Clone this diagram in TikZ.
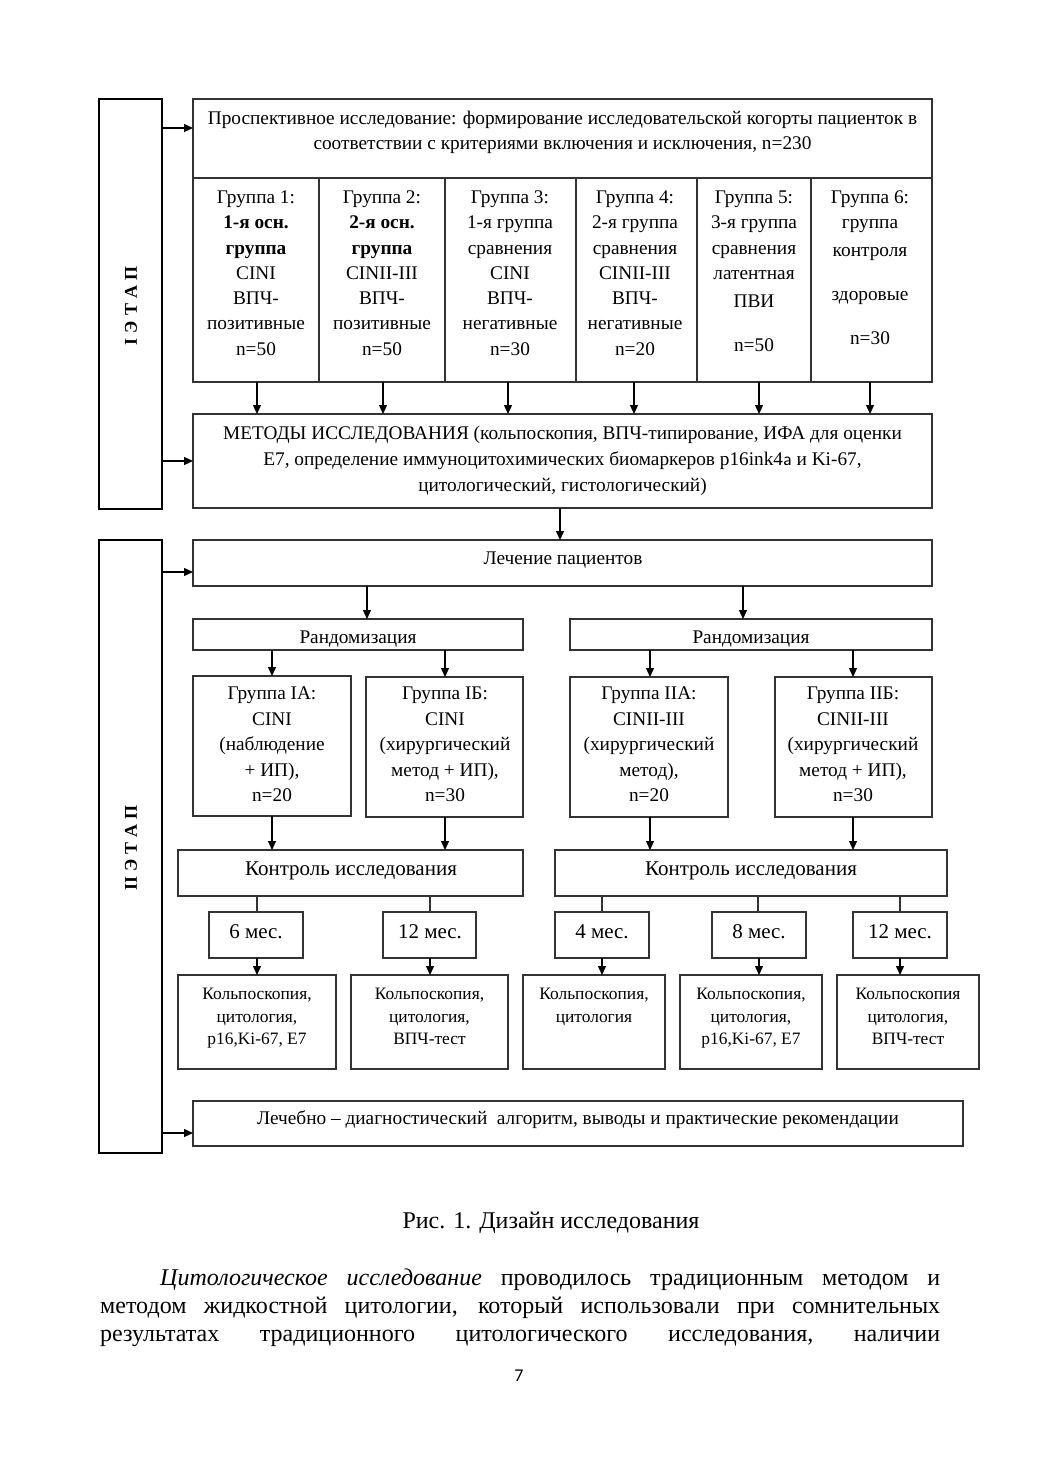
\documentclass[tikz,border=0pt]{standalone}
\usepackage{fontspec}
\setmainfont{Liberation Serif}
\newfontfamily\pagenumfont{Carlito}
\usetikzlibrary{arrows.meta}
\tikzset{
  box/.style={draw=black!80, line width=1.1pt, rectangle, inner sep=0pt, outer sep=0pt},
  stagebox/.style={draw=black, line width=2.8pt, rectangle, inner sep=0pt, outer sep=0pt},
  txt/.style={inner sep=0pt, outer sep=0pt, anchor=base, font=\fontsize{19.3}{25.3}\selectfont},
  arr/.style={line width=1.3pt, -{Triangle[length=9pt,width=8pt]}},
  ln/.style={line width=1.1pt, draw=black!80},
  stagelabel/.style={inner sep=0pt, outer sep=0pt, rotate=90, font=\fontsize{18}{20}\selectfont\bfseries},
}
\newcommand\mkbox[6][]{\node[box,#1,minimum width={(#5)-(#3)},minimum height={(#6)-(#4)}] (#2) at ({(#3+#5)/2},{(#4+#6)/2}) {};}
\newcommand\lns[1]{\begin{tabular}[t]{@{}c@{}}#1\end{tabular}}
\begin{document}
\begin{tikzpicture}[x=1pt,y=-1pt]
\useasboundingbox[fill=white] (0,0) rectangle (1039,1471);
% stage boxes
\mkbox[stagebox]{s1}{99}{99}{162}{509}
\mkbox[stagebox]{s2}{99}{540}{162}{1153}
\node[stagelabel] (s1t) at (131,306) {I\hspace{5pt}Э\hspace{5pt}Т\hspace{5pt}А\hspace{5pt}П};
\node[stagelabel] (s2t) at (131,848) {II\hspace{5pt}Э\hspace{5pt}Т\hspace{5pt}А\hspace{5pt}П};
% top block
\mkbox{hdr}{193}{99}{932}{178}
\mkbox{g1}{193}{178}{319}{382}
\mkbox{g2}{319}{178}{445}{382}
\mkbox{g3}{445}{178}{576}{382}
\mkbox{g4}{576}{178}{697}{382}
\mkbox{g5}{697}{178}{811}{382}
\mkbox{g6}{811}{178}{932}{382}
\node[txt,font=\fontsize{19.3}{25}\selectfont] (hdrt) at (562.5,124.5) {\lns{Проспективное исследование: формирование исследовательской когорты пациенток в\\соответствии с критериями включения и исключения, n=230}};
\node[txt] (g1t) at (256,203.5) {\lns{Группа 1:\\\textbf{1-я осн.}\\\textbf{группа}\\CINI\\ВПЧ-\\позитивные\\n=50}};
\node[txt] (g2t) at (382,203.5) {\lns{Группа 2:\\\textbf{2-я осн.}\\\textbf{группа}\\CINII-III\\ВПЧ-\\позитивные\\n=50}};
\node[txt] (g3t) at (510,203.5) {\lns{Группа 3:\\1-я группа\\сравнения\\CINI\\ВПЧ-\\негативные\\n=30}};
\node[txt] (g4t) at (635,203.5) {\lns{Группа 4:\\2-я группа\\сравнения\\CINII-III\\ВПЧ-\\негативные\\n=20}};
\node[txt] (g5t) at (754,203.5) {\lns{Группа 5:\\3-я группа\\сравнения\\латентная\\[3pt]ПВИ\\[19pt]n=50}};
\node[txt] (g6t) at (870,203.5) {\lns{Группа 6:\\группа\\[2pt]контроля\\[19pt]здоровые\\[19pt]n=30}};
% methods
\mkbox{meth}{193}{414}{932}{508}
\node[txt,font=\fontsize{19.3}{26}\selectfont] (metht) at (562.5,439.5) {\lns{МЕТОДЫ ИССЛЕДОВАНИЯ (кольпоскопия, ВПЧ-типирование, ИФА для оценки\\Е7, определение иммуноцитохимических биомаркеров p16ink4\textsf{a} и Ki-67,\\цитологический, гистологический)}};
\foreach \n/\x in {g1/257,g2/383,g3/508,g4/634,g5/759,g6/870}
  \draw[arr] (\x,0 |- \n.south) -- (\x,0 |- meth.north);
% treatment
\mkbox{treat}{193}{540}{932}{586}
\node[txt] (treatt) at (563,564.5) {Лечение пациентов};
\draw[arr] (560,0 |- meth.south) -- (560,0 |- treat.north);
% randomisation
\mkbox{rl}{193}{619}{523}{650}
\mkbox{rr}{570}{619}{932}{650}
\node[txt] (rlt) at (358,643.5) {Рандомизация};
\node[txt] (rrt) at (751,643.5) {Рандомизация};
\draw[arr] (367,0 |- treat.south) -- (367,0 |- rl.north);
\draw[arr] (743,0 |- treat.south) -- (743,0 |- rr.north);
% subgroups
\mkbox{ia}{193}{676}{351}{816}
\mkbox{ib}{366}{677}{523}{817}
\mkbox{iia}{570}{677}{728}{817}
\mkbox{iib}{775}{677}{932}{817}
\node[txt,font=\fontsize{19.3}{25.5}\selectfont] (iat) at (272,699.5) {\lns{Группа IА:\\CINI\\(наблюдение\\+ ИП),\\n=20}};
\node[txt,font=\fontsize{19.3}{25.5}\selectfont] (ibt) at (445,699.5) {\lns{Группа IБ:\\CINI\\(хирургический\\метод + ИП),\\n=30}};
\node[txt,font=\fontsize{19.3}{25.5}\selectfont] (iiat) at (649,699.5) {\lns{Группа IIА:\\CINII-III\\(хирургический\\метод),\\n=20}};
\node[txt,font=\fontsize{19.3}{25.5}\selectfont] (iibt) at (853,699.5) {\lns{Группа IIБ:\\CINII-III\\(хирургический\\метод + ИП),\\n=30}};
\draw[arr] (272,0 |- rl.south) -- (272,0 |- ia.north);
\draw[arr] (445,0 |- rl.south) -- (445,0 |- ib.north);
\draw[arr] (650,0 |- rr.south) -- (650,0 |- iia.north);
\draw[arr] (853,0 |- rr.south) -- (853,0 |- iib.north);
% control
\mkbox{kl}{178}{850}{523}{896}
\mkbox{kr}{555}{850}{947}{896}
\node[txt,font=\fontsize{21}{24}\selectfont] (klt) at (351,875.5) {Контроль исследования};
\node[txt,font=\fontsize{21}{24}\selectfont] (krt) at (751,875.5) {Контроль исследования};
\draw[arr] (272,0 |- ia.south) -- (272,0 |- kl.north);
\draw[arr] (445,0 |- ib.south) -- (445,0 |- kl.north);
\draw[arr] (650,0 |- iia.south) -- (650,0 |- kr.north);
\draw[arr] (853,0 |- iib.south) -- (853,0 |- kr.north);
% months
\mkbox{m6}{209}{912}{303}{958}
\mkbox{m12a}{383}{912}{476}{958}
\mkbox{m4}{555}{912}{649}{958}
\mkbox{m8}{712}{912}{806}{958}
\mkbox{m12b}{853}{912}{947}{958}
\foreach \n/\x/\t in {m6/256/6 мес.,m12a/430/12 мес.,m4/602/4 мес.,m8/759/8 мес.,m12b/900/12 мес.}
  \node[txt,font=\fontsize{21}{24}\selectfont] (\n t) at (\x,938.5) {\t};
\draw[ln] (257,0 |- kl.south) -- (257,0 |- m6.north);
\draw[ln] (430,0 |- kl.south) -- (430,0 |- m12a.north);
\draw[ln] (602,0 |- kr.south) -- (602,0 |- m4.north);
\draw[ln] (758,0 |- kr.south) -- (758,0 |- m8.north);
\draw[ln] (900,0 |- kr.south) -- (900,0 |- m12b.north);
% results
\mkbox{r1}{178}{975}{336}{1069}
\mkbox{r2}{351}{975}{508}{1069}
\mkbox{r3}{523}{975}{665}{1069}
\mkbox{r4}{680}{975}{822}{1069}
\mkbox{r5}{837}{975}{979}{1069}
\node[txt,font=\fontsize{17.4}{22.5}\selectfont] (r1t) at (257,999.5) {\lns{Кольпоскопия,\\цитология,\\p16,Ki-67, E7}};
\node[txt,font=\fontsize{17.4}{22.5}\selectfont] (r2t) at (429.5,999.5) {\lns{Кольпоскопия,\\цитология,\\ВПЧ-тест}};
\node[txt,font=\fontsize{17.4}{22.5}\selectfont] (r3t) at (594,999.5) {\lns{Кольпоскопия,\\цитология}};
\node[txt,font=\fontsize{17.4}{22.5}\selectfont] (r4t) at (751,999.5) {\lns{Кольпоскопия,\\цитология,\\p16,Ki-67, E7}};
\node[txt,font=\fontsize{17.4}{22.5}\selectfont] (r5t) at (908,999.5) {\lns{Кольпоскопия\\цитология,\\ВПЧ-тест}};
\draw[arr] (257,0 |- m6.south) -- (257,0 |- r1.north);
\draw[arr] (430,0 |- m12a.south) -- (430,0 |- r2.north);
\draw[arr] (602,0 |- m4.south) -- (602,0 |- r3.north);
\draw[arr] (759,0 |- m8.south) -- (759,0 |- r4.north);
\draw[arr] (900,0 |- m12b.south) -- (900,0 |- r5.north);
% final
\mkbox{fin}{193}{1101}{963}{1146}
\node[txt] (fint) at (578,1124) {Лечебно – диагностический\ \ алгоритм, выводы и практические рекомендации};
% stage arrows
\draw[arr] (s1.east |- 0,128) -- (hdr.west |- 0,128);
\draw[arr] (s1.east |- 0,461) -- (meth.west |- 0,461);
\draw[arr] (s2.east |- 0,572) -- (treat.west |- 0,572);
\draw[arr] (s2.east |- 0,1133) -- (fin.west |- 0,1133);
% caption and text
\node[txt,font=\fontsize{24}{28}\selectfont] (cap) at (551,1228) {Рис. 1. Дизайн исследования};
\node[inner sep=0pt, anchor=base west, font=\fontsize{24}{28}\selectfont] (p1) at (160,1285) {\hbox to 780pt{\textit{Цитологическое исследование} проводилось традиционным методом и}};
\node[inner sep=0pt, anchor=base west, font=\fontsize{24}{28}\selectfont] (p2) at (100,1313) {\hbox to 840pt{методом жидкостной цитологии, который использовали при сомнительных}};
\node[inner sep=0pt, anchor=base west, font=\fontsize{24}{28}\selectfont] (p3) at (100,1341) {\hbox to 840pt{результатах\hfil традиционного\hfil цитологического\hfil исследования,\hfil наличии}};
\node[inner sep=0pt, anchor=base, font=\pagenumfont\fontsize{18}{20}\selectfont] (pg) at (519,1381) {7};
\end{tikzpicture}
\end{document}
